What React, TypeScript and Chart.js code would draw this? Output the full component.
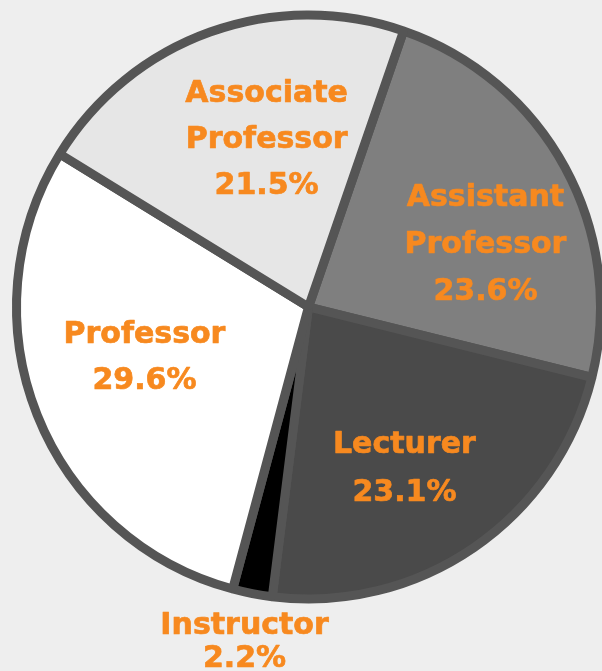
import React, { useEffect, useRef } from "react";
import { Chart, registerables } from "chart.js";

Chart.register(...registerables);

// ---- data ----
const categories = ["Assistant Professor", "Lecturer", "Instructor", "Professor", "Associate Professor"];
const shares = [23.6, 23.1, 2.2, 29.6, 21.5];
const labelLines = [["Assistant", "Professor"], ["Lecturer"], ["Instructor"], ["Professor"], ["Associate", "Professor"]];

// ---- styles ----
const sliceColors = ["#7f7f7f", "#4a4a4a", "#000000", "#ffffff", "#e6e6e6"];
// [radius fraction, angle offset (deg), line height]
const labelPlacement = [
  [0.645, 8.5, 47],
  [0.635, 3.3, 48],
  [1.16, -0.2, 33],
  [0.585, 5.5, 46],
  [0.601, 5.9, 46],
];
const LABEL_COLOR = "#f7891f";
const FONT_SIZE = 30;

const labelPlugin = {
  id: "sliceLabels",
  afterDatasetsDraw(chart: any) {
    const ctx = chart.ctx;
    const meta = chart.getDatasetMeta(0);
    ctx.save();
    ctx.fillStyle = LABEL_COLOR;
    ctx.strokeStyle = LABEL_COLOR;
    ctx.lineWidth = 0.7;
    ctx.lineJoin = "round";
    ctx.font = `bold ${FONT_SIZE}px "DejaVu Sans"`;
    ctx.textAlign = "center";
    ctx.textBaseline = "alphabetic";
    const capH = 0.729 * FONT_SIZE;
    meta.data.forEach((arc: any, i: number) => {
      const p = arc.getProps(["x", "y", "startAngle", "endAngle", "outerRadius"], true);
      const [frac, offDeg, lh] = labelPlacement[i];
      const mid = (p.startAngle + p.endAngle) / 2 + (offDeg * Math.PI) / 180;
      const cx = p.x + Math.cos(mid) * frac * p.outerRadius;
      const cy = p.y + Math.sin(mid) * frac * p.outerRadius;
      const lines = [...labelLines[i], shares[i].toFixed(1) + "%"];
      const n = lines.length;
      lines.forEach((t, j) => {
        const by = cy + (j - (n - 1) / 2) * lh + capH / 2;
        ctx.strokeText(t, cx, by);
        ctx.fillText(t, cx, by);
      });
    });
    ctx.restore();
  },
};

export default function App() {
  const ref = useRef<HTMLCanvasElement | null>(null);
  useEffect(() => {
    if (!ref.current) return;
    const chart = new Chart(ref.current, {
      type: "pie",
      data: {
        labels: categories,
        datasets: [
          {
            data: shares,
            backgroundColor: sliceColors,
            borderColor: "#555555",
            borderWidth: 9,
          },
        ],
      },
      options: {
        animation: false,
        responsive: false,
        rotation: 19,
        radius: 292,
        layout: { padding: { left: 15, right: 0, top: 13, bottom: 70 } },
        plugins: {
          legend: { display: false },
          tooltip: { enabled: false },
        },
      },
      plugins: [labelPlugin],
    });
    return () => chart.destroy();
  }, []);
  return (
    <div
      style={{
        position: "absolute",
        left: 0,
        top: 0,
        width: 602,
        height: 671,
        background: "#eeeeee",
        overflow: "hidden",
      }}
    >
      <canvas ref={ref} width={602} height={671} style={{ display: "block" }} />
    </div>
  );
}
